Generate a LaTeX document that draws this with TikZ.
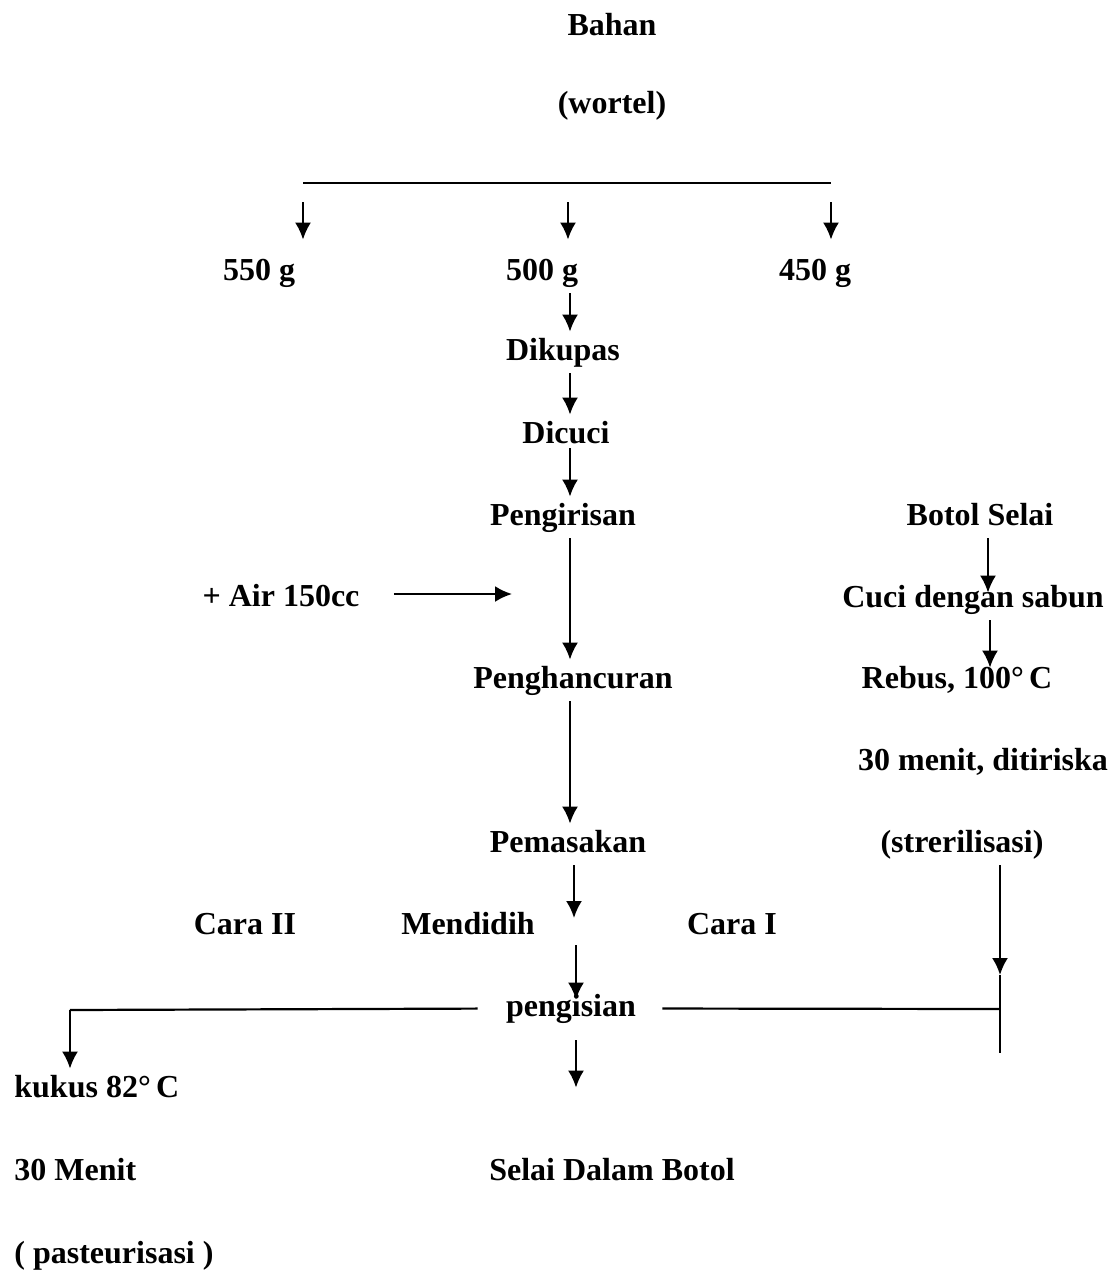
\documentclass[tikz,border=0pt]{standalone}
\usepackage{fontspec}
\setmainfont{Liberation Serif}
\usetikzlibrary{arrows.meta}

\begin{document}
\begin{tikzpicture}[
  x=0.5pt, y=-0.5pt,
  font=\fontsize{16}{19}\selectfont\bfseries,
  txt/.style={anchor=base, inner sep=3pt, text height=11pt, text depth=3.5pt},
  txtl/.style={txt, anchor=base west},
  arr/.style={line width=1.1pt, -{Latex[length=8.5pt, width=8pt]}},
  ln/.style={line width=1.1pt},
  split/.style={arr, shorten <=9.5pt, shorten >=6pt}
]
\useasboundingbox (0,0) rectangle (1112,1276);

% Bahan
\node[txt] (bahan) at (612,35) {Bahan};
\node[txt] (wortel) at (612,113) {(wortel)};

% split into three portions
\coordinate (bl) at (303,183);
\coordinate (bm) at (568,183);
\coordinate (br) at (831,183);
\node[txt] (b550) at (259,280) {550 g};
\node[txt] (b500) at (542,280) {500 g};
\node[txt] (b450) at (815,280) {450 g};

% main process
\coordinate (col) at (570,0);
\node[txt] (dikupas) at (563,360) {Dikupas};
\node[txt] (dicuci) at (566,443) {Dicuci};
\node[txt] (pengirisan) at (563,525) {Pengirisan};
\node[txt] (air) at (281,606) {+ Air 150cc};
\coordinate (airend) at (512,594);
\node[txt] (penghancuran) at (573,688) {Penghancuran};
\node[txt] (pemasakan) at (568,852) {Pemasakan};

% Mendidih row
\node[txt] (cara2) at (245,934) {Cara II};
\node[txt] (mendidih) at (468,934) {Mendidih};
\node[txt] (cara1) at (732,934) {Cara I};
\coordinate (didih1) at (574,918);
\coordinate (didih2) at (576,945);

% pengisian
\node[txt] (pengisian) at (571,1016) {pengisian};
\node[txt] (selai) at (612,1180) {Selai Dalam Botol};

% Cara II: kukus
\coordinate (kiri) at (70,1010);
\node[txtl] (kukus) at (8,1097) {kukus 82°\,C};
\node[txtl] (menit2) at (8,1180) {30 Menit};
\node[txtl] (pasteur) at (8,1263) {( pasteurisasi )};

% Botol Selai
\node[txt] (botol) at (980,525) {Botol Selai};
\node[txt] (cuci) at (973,607) {Cuci dengan sabun};
\node[txt] (rebus) at (957,688) {Rebus, 100°\,C};
\node[txt] (menit1) at (983,770) {30 menit, ditiriska};
\node[txt] (steril) at (962,852) {(strerilisasi)};
\coordinate (kanan) at (1000,1009);
\coordinate (kananpanah) at (1000,975);
\coordinate (kananbawah) at (1000,1053);

% connectors
\draw[ln] (bl) -- (br);
\draw[split] (bl) -- (bl |- b550.north);
\draw[split] (bm) -- (bm |- b500.north);
\draw[split] (br) -- (br |- b450.north);
\draw[arr] (col |- b500.south) -- (col |- dikupas.north);
\draw[arr] (col |- dikupas.south) -- (col |- dicuci.north);
\draw[arr, shorten <=-4pt] (col |- dicuci.south) -- (col |- pengirisan.north);
\draw[arr] (col |- pengirisan.south) -- (col |- penghancuran.north);
\draw[arr] (air.east |- airend) ++(28,0) -- (airend);
\draw[arr] (col |- penghancuran.south) -- (col |- pemasakan.north);
\draw[arr] (didih1 |- pemasakan.south) -- (didih1);
\draw[arr, shorten >=-6pt] (didih2) -- (didih2 |- pengisian.north);
\draw[arr, shorten <=5.5pt, shorten >=32pt] (pengisian.south -| didih2) -- (selai.north -| didih2);
\draw[ln, shorten <=11pt] (pengisian.west) -- (kiri);
\draw[arr] (kiri) -- (kiri |- kukus.north);
\draw[ln, shorten <=10pt] (pengisian.east) -- (kanan);
\draw[arr, shorten >=-7pt] (988,0 |- botol.south) -- (988,0 |- cuci.north);
\draw[arr, shorten >=-4pt] (990,0 |- cuci.south) -- (990,0 |- rebus.north);
\draw[arr] (kanan |- steril.south) -- (kananpanah);
\draw[ln] (kananpanah) -- (kananbawah);

\end{tikzpicture}
\end{document}
